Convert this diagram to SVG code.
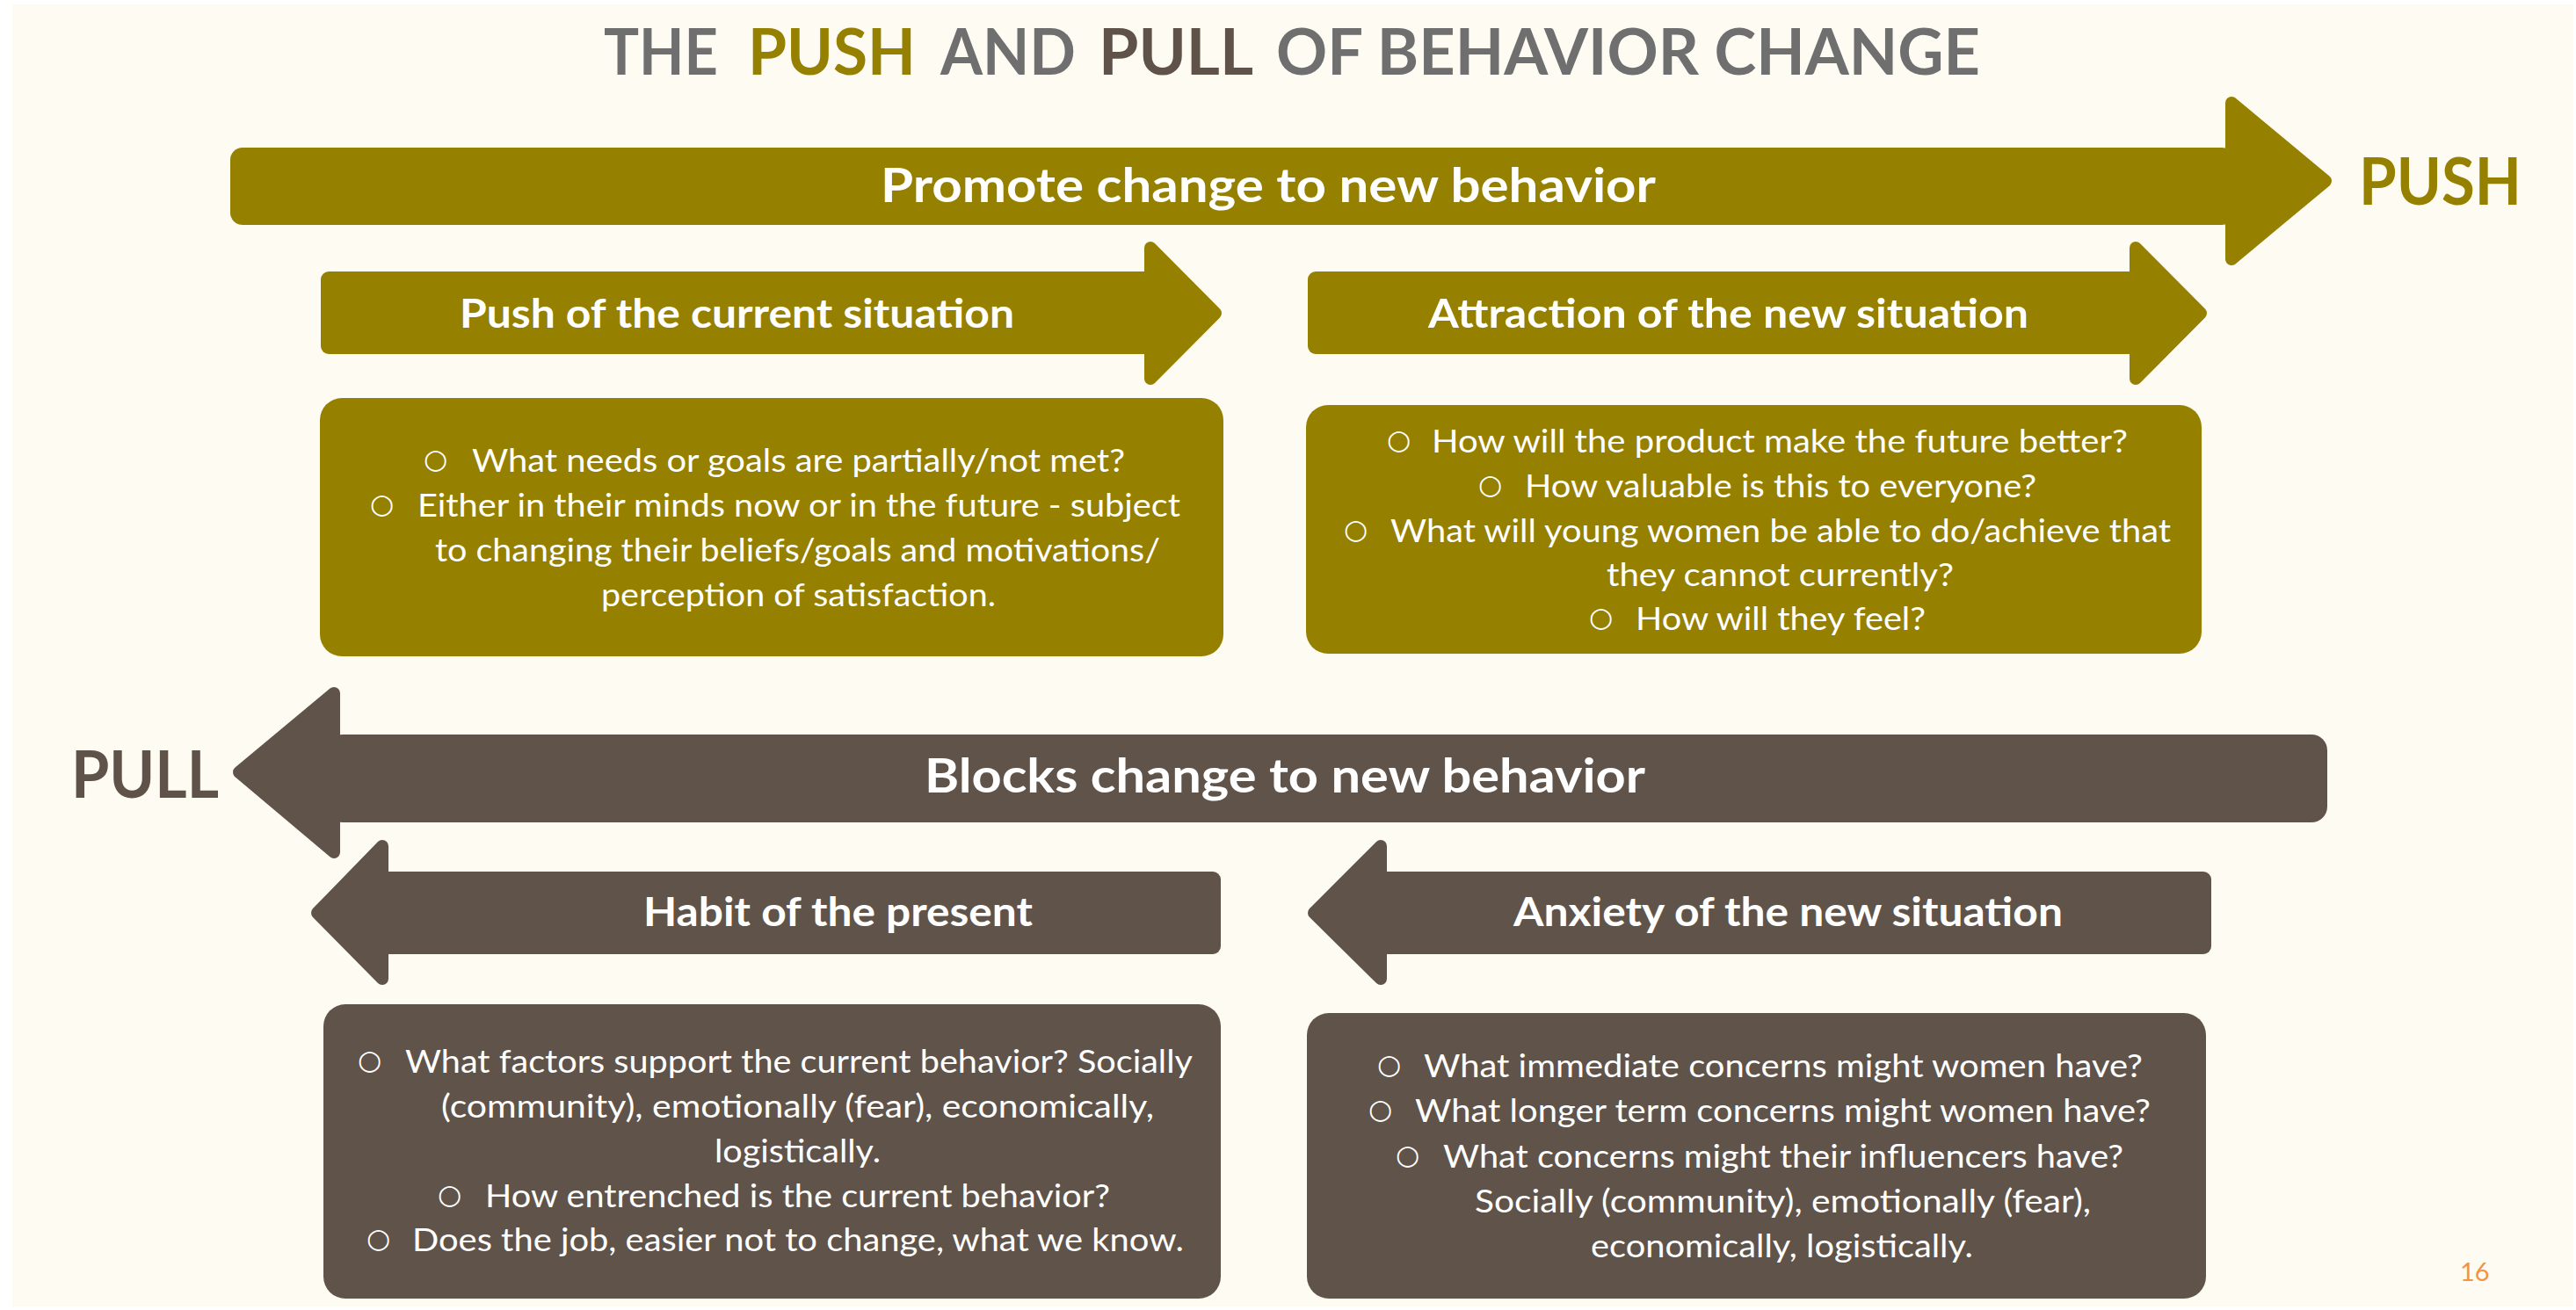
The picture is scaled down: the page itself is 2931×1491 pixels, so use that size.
<svg xmlns="http://www.w3.org/2000/svg" width="2931" height="1491" viewBox="0 0 2931 1491">
  <style>
    .bg { fill: #FEFBF3; }
    .olive { fill: #968000; }
    .brown { fill: #5F534A; }
    .head-olive { fill: #968000; stroke: #968000; stroke-width: 14; stroke-linejoin: round; }
    .head-brown { fill: #5F534A; stroke: #5F534A; stroke-width: 14; stroke-linejoin: round; }
    text { font-family: Lato, "Liberation Sans", sans-serif; }
    .title { font-size: 72px; font-weight: 700; fill: #6F6F6F; }
    .side { font-size: 74px; font-weight: 700; }
    .big { font-size: 54px; font-weight: 700; fill: #FFFFFF; }
    .head { font-size: 46px; font-weight: 700; fill: #FFFFFF; }
    .body { font-size: 36px; fill: #FFFFFF; }
    .bullet { font-family: "DejaVu Sans", sans-serif; font-size: 31px; fill: #FFFFFF; }
    .page { font-size: 29px; fill: #F39441; }
  </style>

  <!-- page -->
  <rect x="0" y="0" width="2931" height="1491" fill="#FFFFFF"/>
  <rect class="bg" x="14" y="5" width="2914" height="1482"/>

  <!-- heading line -->
  <g id="title">
    <text class="title" x="687" y="85" textLength="130" lengthAdjust="spacingAndGlyphs">THE</text>
    <text class="title" x="851" y="85" textLength="191" lengthAdjust="spacingAndGlyphs" style="fill:#968000">PUSH</text>
    <text class="title" x="1070" y="85" textLength="154" lengthAdjust="spacingAndGlyphs">AND</text>
    <text class="title" x="1250" y="85" textLength="176" lengthAdjust="spacingAndGlyphs" style="fill:#5F5249">PULL</text>
    <text class="title" x="1452" y="85" textLength="801" lengthAdjust="spacingAndGlyphs">OF BEHAVIOR CHANGE</text>
  </g>

  <!-- side labels -->
  <g id="label-push">
    <text class="side" x="2684" y="233" textLength="185" lengthAdjust="spacingAndGlyphs" style="fill:#968000">PUSH</text>
  </g>
  <g id="label-pull">
    <text class="side" x="81" y="908" textLength="168" lengthAdjust="spacingAndGlyphs" style="fill:#5F5249">PULL</text>
  </g>

  <!-- forward arrows -->
  <g id="arrow-promote">
    <rect class="olive" x="262" y="168" width="2280" height="88" rx="14"/>
    <polygon class="head-olive" points="2539,117 2646,206 2539,295"/>
    <text class="big" x="1002" y="230" textLength="882" lengthAdjust="spacingAndGlyphs">Promote change to new behavior</text>
  </g>

  <g id="arrow-push-current">
    <rect class="olive" x="365" y="309" width="950" height="94" rx="9"/>
    <polygon class="head-olive" points="1309,282 1383,356.5 1309,431"/>
    <text class="head" x="523" y="373" textLength="631" lengthAdjust="spacingAndGlyphs">Push of the current situation</text>
  </g>

  <g id="arrow-attraction">
    <rect class="olive" x="1488" y="309" width="948" height="94" rx="9"/>
    <polygon class="head-olive" points="2430,282 2504,356.5 2430,431"/>
    <text class="head" x="1625" y="373" textLength="683" lengthAdjust="spacingAndGlyphs">Attraction of the new situation</text>
  </g>

  <!-- backward arrows -->
  <g id="arrow-blocks">
    <rect class="brown" x="372" y="836" width="2276" height="100" rx="18"/>
    <polygon class="head-brown" points="380,789 272,879 380,970"/>
    <text class="big" x="1052" y="902" textLength="820" lengthAdjust="spacingAndGlyphs">Blocks change to new behavior</text>
  </g>

  <g id="arrow-habit">
    <rect class="brown" x="428" y="992" width="961" height="94" rx="9"/>
    <polygon class="head-brown" points="435,963 361,1039 435,1114"/>
    <text class="head" x="732" y="1054" textLength="443" lengthAdjust="spacingAndGlyphs">Habit of the present</text>
  </g>

  <g id="arrow-anxiety">
    <rect class="brown" x="1564" y="992" width="952" height="94" rx="9"/>
    <polygon class="head-brown" points="1571,963 1495,1039 1571,1114"/>
    <text class="head" x="1722" y="1054" textLength="625" lengthAdjust="spacingAndGlyphs">Anxiety of the new situation</text>
  </g>

  <!-- question boxes (bullet glyphs sit 4px above the line baseline) -->
  <g id="box-push-current">
    <rect class="olive" x="364" y="453" width="1028" height="294" rx="25"/>
    <text class="bullet" x="482" y="533">○</text>
    <text class="body" x="537" y="537" textLength="743" lengthAdjust="spacingAndGlyphs">What needs or goals are partially/not met?</text>
    <text class="bullet" x="421" y="584">○</text>
    <text class="body" x="475" y="588" textLength="868" lengthAdjust="spacingAndGlyphs">Either in their minds now or in the future - subject</text>
    <text class="body" x="495" y="639" textLength="825" lengthAdjust="spacingAndGlyphs">to changing their beliefs/goals and motivations/</text>
    <text class="body" x="684" y="690" textLength="449" lengthAdjust="spacingAndGlyphs">perception of satisfaction.</text>
  </g>

  <g id="box-attraction">
    <rect class="olive" x="1486" y="461" width="1019" height="283" rx="25"/>
    <text class="bullet" x="1578" y="511">○</text>
    <text class="body" x="1629" y="515" textLength="792" lengthAdjust="spacingAndGlyphs">How will the product make the future better?</text>
    <text class="bullet" x="1682" y="562">○</text>
    <text class="body" x="1735" y="566" textLength="582" lengthAdjust="spacingAndGlyphs">How valuable is this to everyone?</text>
    <text class="bullet" x="1529" y="613">○</text>
    <text class="body" x="1582" y="617" textLength="888" lengthAdjust="spacingAndGlyphs">What will young women be able to do/achieve that</text>
    <text class="body" x="1828" y="667" textLength="395" lengthAdjust="spacingAndGlyphs">they cannot currently?</text>
    <text class="bullet" x="1808" y="713">○</text>
    <text class="body" x="1861" y="717" textLength="330" lengthAdjust="spacingAndGlyphs">How will they feel?</text>
  </g>

  <g id="box-habit">
    <rect class="brown" x="368" y="1143" width="1021" height="335" rx="25"/>
    <text class="bullet" x="407" y="1217">○</text>
    <text class="body" x="461" y="1221" textLength="896" lengthAdjust="spacingAndGlyphs">What factors support the current behavior? Socially</text>
    <text class="body" x="502" y="1272" textLength="811" lengthAdjust="spacingAndGlyphs">(community), emotionally (fear), economically,</text>
    <text class="body" x="813" y="1323" textLength="189" lengthAdjust="spacingAndGlyphs">logistically.</text>
    <text class="bullet" x="498" y="1370">○</text>
    <text class="body" x="552" y="1374" textLength="711" lengthAdjust="spacingAndGlyphs">How entrenched is the current behavior?</text>
    <text class="bullet" x="417" y="1420">○</text>
    <text class="body" x="469" y="1424" textLength="878" lengthAdjust="spacingAndGlyphs">Does the job, easier not to change, what we know.</text>
  </g>

  <g id="box-anxiety">
    <rect class="brown" x="1487" y="1153" width="1023" height="325" rx="25"/>
    <text class="bullet" x="1567" y="1222">○</text>
    <text class="body" x="1620" y="1226" textLength="818" lengthAdjust="spacingAndGlyphs">What immediate concerns might women have?</text>
    <text class="bullet" x="1557" y="1273">○</text>
    <text class="body" x="1610" y="1277" textLength="837" lengthAdjust="spacingAndGlyphs">What longer term concerns might women have?</text>
    <text class="bullet" x="1588" y="1325">○</text>
    <text class="body" x="1642" y="1329" textLength="774" lengthAdjust="spacingAndGlyphs">What concerns might their influencers have?</text>
    <text class="body" x="1678" y="1380" textLength="701" lengthAdjust="spacingAndGlyphs">Socially (community), emotionally (fear),</text>
    <text class="body" x="1810" y="1431" textLength="435" lengthAdjust="spacingAndGlyphs">economically, logistically.</text>
  </g>

  <g id="page-number">
    <text class="page" x="2799" y="1458">16</text>
  </g>
</svg>
